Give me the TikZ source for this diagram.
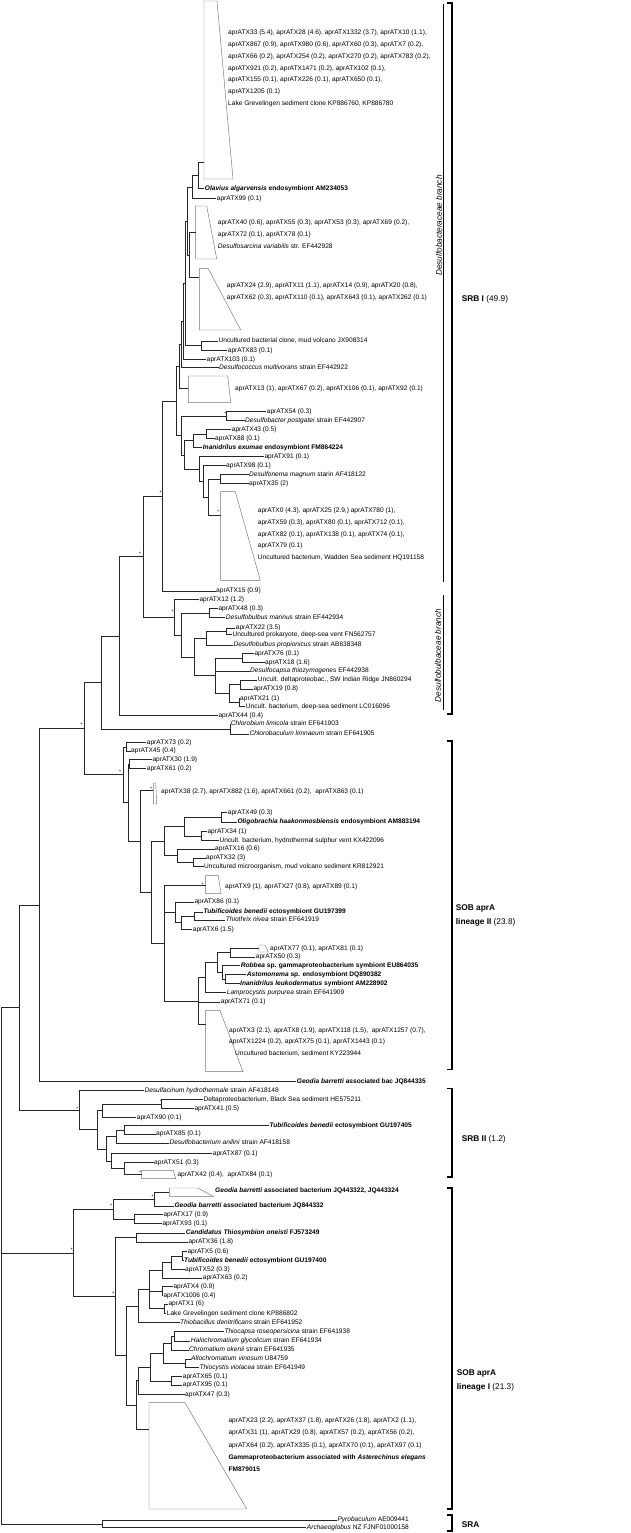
\documentclass[tikz,border=0pt]{standalone}
\usepackage{fontspec}
\setmainfont{Liberation Sans}
\usetikzlibrary{calc}
\newcommand\tn[4]{\path let \p1=(#3), \p2=(#4) in coordinate (#1) at (#2pt,{0.5*(\y1+\y2)});}
\newcommand\kids[2]{\foreach \kid in {#2} {\draw[br] (#1) |- (\kid);}}
\begin{document}
\begin{tikzpicture}[x=1pt,y=-1pt,
  br/.style={line width=0.55pt, black!85},
  lf/.style={anchor=west, inner sep=0.5pt, font=\fontsize{6.6}{7}\selectfont, text height=4.7pt, text depth=1.2pt},
  ml/.style={anchor=north west, align=left, inner sep=0pt, font=\fontsize{6.6}{11.8}\selectfont},
  tri/.style={draw=black!55, line width=0.45pt},
  brk/.style={line width=1.2pt},
  glab/.style={anchor=west, inner sep=0pt, font=\fontsize{8.3}{14.3}\selectfont, align=left},
  glab2/.style={anchor=north west, inner sep=0pt, font=\fontsize{8.3}{14.3}\selectfont, align=left},
  rlab/.style={rotate=90, inner sep=0pt, font=\fontsize{8.2}{9}\itshape\selectfont},
  ast/.style={inner sep=0pt, font=\fontsize{5}{5}\selectfont}]
\useasboundingbox (0,0) rectangle (631,1533);

% ---------- collapsed clades ----------
\draw[tri] (204,1)--(217,1)--(233,179)--(204,179)--cycle;
\draw[tri] (195.7,206)--(206.7,206)--(216.7,259)--(195.7,259)--cycle;
\draw[tri] (199.3,268.7)--(208.3,268.7)--(240.7,330)--(199.3,330)--cycle;
\draw[tri] (188.3,376)--(227.7,376)--(230.7,402.3)--(188.3,402.3)--cycle;
\draw[tri] (220.7,491.7)--(235.3,491.7)--(260.3,580.3)--(220.7,580.3)--cycle;
\draw[tri] (153.3,783)--(155.7,783)--(156.7,804)--(153.3,804)--cycle;
\draw[tri] (205.7,875.7)--(218.3,875.7)--(221,893.7)--(205.7,893.7)--cycle;
\draw[tri] (259,945)--(265,945)--(268.3,952)--(259,952)--cycle;
\draw[tri] (205.7,1010.3)--(220,1010.3)--(243,1071.7)--(205.7,1071.7)--cycle;
\draw[tri] (141.7,1170.3)--(173.3,1170.3)--(175.7,1178.7)--(141.7,1178.7)--cycle;
\draw[tri] (169.3,1188)--(197.7,1188)--(213.3,1196.3)--(169.3,1196.3)--cycle;
\draw[tri] (149,1402.7)--(185,1402.7)--(246.7,1509)--(149,1509)--cycle;
\coordinate (T1a) at (204,162.3);
\coordinate (T2a) at (195.7,232);
\coordinate (T3a) at (199.3,277.7);
\coordinate (T4a) at (188.3,388.3);
\coordinate (T5a) at (220.7,515);
\coordinate (T6a) at (153.3,790.7);
\coordinate (T7a) at (205.7,885.3);
\coordinate (T8a) at (259,948.5);
\coordinate (T9a) at (205.7,1024);
\coordinate (T10a) at (141.7,1174.7);
\coordinate (T11a) at (169.3,1192);
\coordinate (T12a) at (149,1429);

% clade texts
\node[ml] (TT1) at (228,29.8) {aprATX33 (5.4), aprATX28 (4.6), aprATX1332 (3.7), aprATX10 (1.1),\\aprATX867 (0.9), aprATX980 (0.6), aprATX60 (0.3), aprATX7 (0.2),\\aprATX66 (0.2), aprATX254 (0.2), aprATX270 (0.2), aprATX783 (0.2),\\aprATX921 (0.2), aprATX1471 (0.2), aprATX102 (0.1),\\aprATX155 (0.1), aprATX226 (0.1), aprATX650 (0.1),\\aprATX1205 (0.1)\\Lake Grevelingen sediment clone KP886760, KP886780};
\node[ml] (TT2) at (217.7,219.8) {aprATX40 (0.6), aprATX55 (0.3), aprATX53 (0.3), aprATX69 (0.2),\\aprATX72 (0.1), aprATX78 (0.1)\\\textit{Desulfosarcina variabilis} str. EF442928};
\node[ml] (TT3) at (226.7,282.8) {aprATX24 (2.9), aprATX11 (1.1), aprATX14 (0.9), aprATX20 (0.8),\\aprATX62 (0.3), aprATX110 (0.1), aprATX643 (0.1), aprATX262 (0.1)};
\node[lf] (TT4) at (234.5,388.3) {aprATX13 (1), aprATX67 (0.2), aprATX106 (0.1), aprATX92 (0.1)};
\node[ml] (TT5) at (257.7,507.5) {aprATX0 (4.3), aprATX25 (2.9,) aprATX780 (1),\\aprATX59 (0.3), aprATX80 (0.1), aprATX712 (0.1),\\aprATX82 (0.1), aprATX138 (0.1), aprATX74 (0.1),\\aprATX79 (0.1)\\Uncultured bacterium, Wadden Sea sediment HQ191158};
\node[lf] (TT6) at (160.5,791.3) {aprATX38 (2.7), aprATX882 (1.6), aprATX661 (0.2), \ aprATX863 (0.1)};
\node[lf] (TT7) at (224.5,886.3) {aprATX9 (1), aprATX27 (0.8), aprATX89 (0.1)};
\node[lf] (TT8) at (269.5,948.5) {aprATX77 (0.1), aprATX81 (0.1)};
\node[ml, font=\fontsize{6.6}{11}\selectfont] (TT9) at (229,1027.2) {aprATX3 (2.1), aprATX8 (1.9), aprATX118 (1.5), \ aprATX1257 (0.7),\\aprATX1224 (0.2), aprATX75 (0.1), aprATX1443 (0.1)};
\node[lf] (TT9b) at (234.5,1053.3) {Uncultured bacterium, sediment KY223944};
\node[lf] (TT10) at (176.8,1174.7) {aprATX42 (0.4), \ aprATX84 (0.1)};
\node[lf] (TT11) at (214.5,1191) {\textbf{\textit{Geodia barretti} associated bacterium JQ443322, JQ443324}};
\node[ml, font=\fontsize{6.6}{12.25}\selectfont] (TT12) at (228.3,1417.5) {aprATX23 (2.2), aprATX37 (1.8), aprATX26 (1.8), aprATX2 (1.1),\\aprATX31 (1), aprATX29 (0.8), aprATX57 (0.2), aprATX56 (0.2),\\aprATX64 (0.2), aprATX335 (0.1), aprATX70 (0.1), aprATX97 (0.1)\\\textbf{Gammaproteobacterium associated with \textit{Asterechinus elegans}}\\\textbf{FM879015}};

% ---------- leaves ----------
\node[lf] (LOla) at (204.2,188.7) {\textbf{\textit{Olavius algarvensis} endosymbiont AM234053}};
\node[lf] (L99) at (216.2,198.3) {aprATX99 (0.1)};
\node[lf] (LUBmv) at (217.8,341) {Uncultured bacterial clone, mud volcano JX908314};
\node[lf] (L83) at (227.2,350.3) {aprATX83 (0.1)};
\node[lf] (L103) at (206.2,359.3) {aprATX103 (0.1)};
\node[lf] (LDmult) at (218.5,367.7) {\textit{Desulfococcus multivorans} strain EF442922};
\node[lf] (L54) at (266.2,411.7) {aprATX54 (0.3)};
\node[lf] (LDpost) at (244.5,420.7) {\textit{Desulfobacter postgatei} strain EF442907};
\node[lf] (L43) at (231.2,429.7) {aprATX43 (0.5)};
\node[lf] (L88) at (214.5,438.3) {aprATX88 (0.1)};
\node[lf] (LInex) at (202.2,447.3) {\textbf{\textit{Inanidrilus exumae} endosymbiont FM864224}};
\node[lf] (L91) at (263.8,456.7) {aprATX91 (0.1)};
\node[lf] (L98) at (225.5,465.7) {aprATX98 (0.1)};
\node[lf] (LDmag) at (248.5,474.7) {\textit{Desulfonema magnum} starin AF418122};
\node[lf] (L35) at (248.5,483.3) {aprATX35 (2)};
\node[lf] (L15) at (215.5,591) {aprATX15 (0.9)};
\node[lf] (L12) at (198.8,599.3) {aprATX12 (1.2)};
\node[lf] (L48) at (217.8,608.7) {aprATX48 (0.3)};
\node[lf] (LDmar) at (225.2,617.7) {\textit{Desulfobulbus marinus} strain EF442934};
\node[lf] (L22) at (235.2,628) {aprATX22 (3.5)};
\node[lf] (LUpro) at (231.8,634.7) {Uncultured prokaryote, deep-sea vent FN562757};
\node[lf] (LDprop) at (232.8,645) {\textit{Desulfobulbus propionicus} strain AB638348};
\node[lf] (L76) at (253.8,653.3) {aprATX76 (0.1)};
\node[lf] (L18) at (264.5,662.3) {aprATX18 (1.6)};
\node[lf] (LDcap) at (249.5,671) {\textit{Desulfocapsa thiozymogenes} EF442938};
\node[lf] (LUSW) at (257.2,680) {Uncult. deltaproteobac., SW Indian Ridge JN860294};
\node[lf] (L19) at (252.8,689) {aprATX19 (0.8)};
\node[lf] (L21) at (239.5,698.3) {aprATX21 (1)};
\node[lf] (LUbdss) at (245.2,706.7) {Uncult. bacterium, deep-sea sediment LC016096};
\node[lf] (L44) at (217.8,715.7) {aprATX44 (0.4)};
\node[lf] (LClim) at (230.2,724) {\textit{Chlorobium limicola} strain EF641903};
\node[lf] (LClimn) at (248.8,734) {\textit{Chlorobaculum limnaeum} strain EF641905};
\node[lf] (L73) at (146.2,742.7) {aprATX73 (0.2)};
\node[lf] (L45) at (130.5,751) {aprATX45 (0.4)};
\node[lf] (L30) at (151.8,759.3) {aprATX30 (1.9)};
\node[lf] (L61) at (146.2,768.5) {aprATX61 (0.2)};
\node[lf] (L49) at (227.2,812.3) {aprATX49 (0.3)};
\node[lf] (LOli) at (236.8,822) {\textbf{\textit{Oligobrachia haakonmosbiensis} endosymbiont AM883194}};
\node[lf] (L34) at (206.8,831.3) {aprATX34 (1)};
\node[lf] (LUhyd) at (218.8,840.3) {Uncult. bacterium, hydrothermal sulphur vent KX422096};
\node[lf] (L16) at (214.5,849) {aprATX16 (0.6)};
\node[lf] (L32) at (205.5,858) {aprATX32 (3)};
\node[lf] (LUmv) at (203.5,866.7) {Uncultured microorganism, mud volcano sediment KR812921};
\node[lf] (L86) at (193.8,902) {aprATX86 (0.1)};
\node[lf] (LTb399) at (202.8,912) {\textbf{\textit{Tubificoides benedii} ectosymbiont GU197399}};
\node[lf] (LThn) at (225.2,920) {\textit{Thiothrix nivea} strain EF641919};
\node[lf] (L6) at (192.2,929.3) {aprATX6 (1.5)};
\node[lf] (L50) at (255.2,957) {aprATX50 (0.3)};
\node[lf] (LRob) at (240.2,965.3) {\textbf{\textit{Robbea} sp. gammaproteobacterium symbiont EU864035}};
\node[lf] (LAst) at (246.2,974.3) {\textbf{\textit{Astomonema} sp. endosymbiont DQ890382}};
\node[lf] (LInl) at (239.5,983.3) {\textbf{\textit{Inanidrilus leukodermatus} symbiont AM228902}};
\node[lf] (LLamp) at (226.2,992.7) {\textit{Lamprocystis purpurea} strain EF641909};
\node[lf] (L71) at (220.2,1002) {aprATX71 (0.1)};
\node[lf] (LGeoBac) at (296.2,1081.3) {\textbf{\textit{Geodia barretti} associated bac JQ844335}};
\node[lf] (LDhyd) at (143.8,1090.7) {\textit{Desulfacinum hydrothermale} strain AF418148};
\node[lf] (LDBS) at (202.8,1099.3) {Deltaproteobacterium, Black Sea sediment HE575211};
\node[lf] (L41) at (193.8,1108.3) {aprATX41 (0.5)};
\node[lf] (L90) at (136.2,1117.3) {aprATX90 (0.1)};
\node[lf] (LTb405) at (268.8,1125.7) {\textbf{\textit{Tubificoides benedii} ectosymbiont GU197405}};
\node[lf] (L85) at (155.5,1134) {aprATX85 (0.1)};
\node[lf] (LDan) at (168.8,1143) {\textit{Desulfobacterium anilini} strain AF418158};
\node[lf] (L87) at (212.2,1153.7) {aprATX87 (0.1)};
\node[lf] (L51) at (153.5,1162.7) {aprATX51 (0.3)};
\node[lf] (LGeoJQ) at (173.8,1206) {\textbf{\textit{Geodia barretti} associated bacterium JQ844332}};
\node[lf] (L17) at (162.8,1214.7) {aprATX17 (0.9)};
\node[lf] (L93) at (161.8,1223.7) {aprATX93 (0.1)};
\node[lf] (LCand) at (185.2,1233) {\textbf{\textit{Candidatus Thiosymbion oneisti} FJ573249}};
\node[lf] (L36) at (187.8,1242) {aprATX36 (1.8)};
\node[lf] (L5) at (186.8,1251.3) {aprATX5 (0.6)};
\node[lf] (LTb400) at (183.5,1260.3) {\textbf{\textit{Tubificoides benedii} ectosymbiont GU197400}};
\node[lf] (L52) at (184.5,1269.3) {aprATX52 (0.3)};
\node[lf] (L63) at (202.2,1278) {aprATX63 (0.2)};
\node[lf] (L4) at (172.8,1286.7) {aprATX4 (0.9)};
\node[lf] (L1006) at (162.8,1295.7) {aprATX1006 (0.4)};
\node[lf] (L1) at (167.8,1304) {aprATX1 (6)};
\node[lf] (LLG) at (166.2,1313.3) {Lake Grevelingen sediment clone KP886802};
\node[lf] (LTbd) at (179.5,1322.3) {\textit{Thiobacillus denitrificans} strain EF641952};
\node[lf] (LTcr) at (223.8,1331.7) {\textit{Thiocapsa roseopersicina} strain EF641938};
\node[lf] (LHgl) at (190.2,1341) {\textit{Halochromatium glycolicum} strain EF641934};
\node[lf] (LCok) at (188.5,1350) {\textit{Chromatium okenii} strain EF641935};
\node[lf] (LAvi) at (190.5,1359) {\textit{Allochromatium vinosum} U84759};
\node[lf] (LTvi) at (198.8,1367.7) {\textit{Thiocystis violacea} strain EF641949};
\node[lf] (L65) at (182.2,1376.7) {aprATX65 (0.1)};
\node[lf] (L95) at (182.2,1385) {aprATX95 (0.1)};
\node[lf] (L47) at (184.5,1394.3) {aprATX47 (0.3)};
\node[lf] (LPyr) at (336.8,1520) {\textit{Pyrobaculum} AE009441};
\node[lf] (LArch) at (306.2,1527.7) {\textit{Archaeoglobus} NZ FJNF01000158};

% ---------- internal nodes ----------
\tn{Na1}{198}{T1a}{LOla}
\tn{Na2}{192.7}{Na1}{L99}
\tn{N3}{189.5}{T2a}{T3a}
\tn{Ntop}{187.5}{Na2}{N3}
\tn{Nunc}{201}{LUBmv}{L83}
\tn{N4}{185.7}{Ntop}{Nunc}
\tn{N5}{183}{N4}{L103}
\tn{N6}{181}{N5}{LDmult}
\tn{NA}{179}{N6}{T4a}
\tn{N54}{226}{L54}{LDpost}
\tn{N43}{206}{L43}{L88}
\tn{Nin}{193.3}{N43}{LInex}
\tn{Ndm}{220}{LDmag}{L35}
\tn{NdmT}{208.3}{Ndm}{T5a}
\tn{Ny2}{203.5}{L98}{NdmT}
\tn{Nlow}{199}{L91}{Ny2}
\tn{Nr2}{184}{Nin}{Nlow}
\tn{N9}{181.7}{N54}{Nr2}
\tn{N7}{176.7}{NA}{N9}
\tn{N8}{162.3}{N7}{L15}
\tn{N48}{209.3}{L48}{LDmar}
\tn{N22}{226}{L22}{LUpro}
\tn{Np}{206.7}{N22}{LDprop}
\tn{N76}{242.7}{L76}{L18}
\tn{Nur}{240.7}{LUSW}{L19}
\tn{N21}{239}{L21}{LUbdss}
\tn{Nunc2}{229.3}{Nur}{N21}
\tn{Ncap}{215}{N76}{Nunc2}
\tn{Nbul}{194.3}{Np}{Ncap}
\tn{Nmar}{181}{N48}{Nbul}
\tn{N12}{174.3}{L12}{Nmar}
\tn{N10}{143.3}{N8}{N12}
\tn{N11}{119}{N10}{L44}
\tn{Nchl}{230}{LClim}{LClimn}
\tn{N13}{101}{N11}{Nchl}
\tn{N73}{126.7}{L73}{L45}
\tn{N30}{129.3}{L30}{L61}
\tn{N49}{221}{L49}{LOli}
\tn{N34}{201.7}{L34}{LUhyd}
\tn{Noli}{184.3}{N49}{N34}
\tn{N32}{193.3}{L32}{LUmv}
\tn{Nx16}{177.7}{L16}{N32}
\tn{Nd}{164.3}{Noli}{Nx16}
\tn{Ntt}{194.3}{LTb399}{LThn}
\tn{N6b}{181}{Ntt}{L6}
\tn{Nr}{175}{L86}{N6b}
\tn{N77}{230}{T8a}{L50}
\tn{Nast}{225}{LAst}{LInl}
\tn{Nrob}{222.7}{LRob}{Nast}
\tn{Nh}{217.7}{N77}{Nrob}
\tn{Ni}{205.7}{Nh}{LLamp}
\tn{Nj}{198.3}{Ni}{T9a}
\tn{Nk}{164.3}{T7a}{Nj}
\tn{Ne}{151}{Nd}{Nk}
\tn{N38}{140.7}{T6a}{Ne}
\tn{Nb}{128.3}{N30}{N38}
\tn{NsobII}{123.3}{N73}{Nb}
\tn{R14}{84.3}{N13}{NsobII}
\tn{R15}{39}{R14}{LGeoBac}
\tn{N41}{161.7}{LDBS}{L41}
\tn{N90}{102.7}{N41}{L90}
\tn{N85}{124}{LTb405}{L85}
\tn{Nan}{116.7}{N85}{LDan}
\tn{N51}{124}{L51}{T10a}
\tn{N87}{111}{L87}{N51}
\tn{Nn}{106.7}{Nan}{N87}
\tn{Nm}{97.7}{N90}{Nn}
\tn{Nsrb2}{79}{LDhyd}{Nm}
\tn{R16}{19}{R15}{Nsrb2}
\tn{Ng1}{154.3}{T11a}{LGeoJQ}
\tn{N17}{134}{L17}{L93}
\tn{Ngeo}{113.3}{Ng1}{N17}
\tn{N36}{136}{LCand}{L36}
\tn{N5b}{182.7}{L5}{LTb400}
\tn{N52}{171.7}{N5b}{L52}
\tn{N63}{162.3}{N52}{L63}
\tn{N4b}{162.3}{L4}{L1006}
\tn{N1}{164.3}{L1}{LLG}
\tn{Ny}{149.3}{N63}{N1}
\tn{Nz}{138.3}{Ny}{LTbd}
\tn{Ntc}{174}{LTcr}{LHgl}
\tn{Nch}{171.7}{Ntc}{LCok}
\tn{Nal}{185}{LAvi}{LTvi}
\tn{Ncr}{163.3}{Nch}{Nal}
\tn{N65}{171.7}{L65}{L95}
\tn{Ncb}{150}{Ncr}{N65}
\tn{Ncc}{138.3}{Ncb}{L47}
\tn{Nee}{136.7}{Ncc}{T12a}
\tn{Nbig}{126.7}{Nz}{Nee}
\tn{Nth}{115}{N36}{Nbig}
\tn{Nsob1}{73.3}{Ngeo}{Nth}
\tn{Nsra}{102.7}{LPyr}{LArch}
\tn{Root}{1}{R16}{Nsra}

% ---------- branches ----------
\kids{Na1}{T1a,LOla}
\kids{Na2}{Na1,L99}
\kids{N3}{T2a,T3a}
\kids{Ntop}{Na2,N3}
\kids{Nunc}{LUBmv,L83}
\kids{N4}{Ntop,Nunc}
\kids{N5}{N4,L103}
\kids{N6}{N5,LDmult}
\kids{NA}{N6,T4a}
\kids{N54}{L54,LDpost}
\kids{N43}{L43,L88}
\kids{Nin}{N43,LInex}
\kids{Ndm}{LDmag,L35}
\kids{NdmT}{Ndm,T5a}
\kids{Ny2}{L98,NdmT}
\kids{Nlow}{L91,Ny2}
\kids{Nr2}{Nin,Nlow}
\kids{N9}{N54,Nr2}
\kids{N7}{NA,N9}
\kids{N8}{N7,L15}
\kids{N48}{L48,LDmar}
\kids{N22}{L22,LUpro}
\kids{Np}{N22,LDprop}
\kids{N76}{L76,L18}
\kids{Nur}{LUSW,L19}
\kids{N21}{L21,LUbdss}
\kids{Nunc2}{Nur,N21}
\kids{Ncap}{N76,LDcap,Nunc2}
\kids{Nbul}{Np,Ncap}
\kids{Nmar}{N48,Nbul}
\kids{N12}{L12,Nmar}
\kids{N10}{N8,N12}
\kids{N11}{N10,L44}
\kids{Nchl}{LClim,LClimn}
\kids{N13}{N11,Nchl}
\kids{N73}{L73,L45}
\kids{N30}{L30,L61}
\kids{N49}{L49,LOli}
\kids{N34}{L34,LUhyd}
\kids{Noli}{N49,N34}
\kids{N32}{L32,LUmv}
\kids{Nx16}{L16,N32}
\kids{Nd}{Noli,Nx16}
\kids{Ntt}{LTb399,LThn}
\kids{N6b}{Ntt,L6}
\kids{Nr}{L86,N6b}
\kids{N77}{T8a,L50}
\kids{Nast}{LAst,LInl}
\kids{Nrob}{LRob,Nast}
\kids{Nh}{N77,Nrob}
\kids{Ni}{Nh,LLamp}
\kids{Nj}{Ni,L71,T9a}
\kids{Nk}{T7a,Nr,Nj}
\kids{Ne}{Nd,Nk}
\kids{N38}{T6a,Ne}
\kids{Nb}{N30,N38}
\kids{NsobII}{N73,Nb}
\kids{R14}{N13,NsobII}
\kids{R15}{R14,LGeoBac}
\kids{N41}{LDBS,L41}
\kids{N90}{N41,L90}
\kids{N85}{LTb405,L85}
\kids{Nan}{N85,LDan}
\kids{N51}{L51,T10a}
\kids{N87}{L87,N51}
\kids{Nn}{Nan,N87}
\kids{Nm}{N90,Nn}
\kids{Nsrb2}{LDhyd,Nm}
\kids{R16}{R15,Nsrb2}
\kids{Ng1}{T11a,LGeoJQ}
\kids{N17}{L17,L93}
\kids{Ngeo}{Ng1,N17}
\kids{N36}{LCand,L36}
\kids{N5b}{L5,LTb400}
\kids{N52}{N5b,L52}
\kids{N63}{N52,L63}
\kids{N4b}{L4,L1006}
\kids{N1}{L1,LLG}
\kids{Ny}{N63,N4b,N1}
\kids{Nz}{Ny,LTbd}
\kids{Ntc}{LTcr,LHgl}
\kids{Nch}{Ntc,LCok}
\kids{Nal}{LAvi,LTvi}
\kids{Ncr}{Nch,Nal}
\kids{N65}{L65,L95}
\kids{Ncb}{Ncr,N65}
\kids{Ncc}{Ncb,L47}
\kids{Nee}{Ncc,T12a}
\kids{Nbig}{Nz,Nee}
\kids{Nth}{N36,Nbig}
\kids{Nsob1}{Ngeo,Nth}
\kids{Nsra}{LPyr,LArch}
\kids{Root}{R16,Nsob1,Nsra}

% ---------- asterisks ----------
\foreach \px/\py [count=\i] in {225.3/413.3,160.7/493,140/553.7,172.7/612,218.3/511.7,81.7/725,120/771.3,151/788.7,202.7/884.7,222.7/977,161/1101.3,77.3/1109,140/1172.7,152.7/1196.3,111/1205.3,71.7/1249.3,113.3/1293.3}
  \node[ast] (ast\i) at (\px,\py) {*};

% ---------- brackets ----------
\draw[brk] (447,3)--(452,3)--(452,714)--(447,714);
\draw[line width=1pt] (443,4.5)--(443,582);
\draw[line width=1pt] (443,595)--(443,710);
\draw[brk] (447,741)--(452,741)--(452,1069.7)--(447,1069.7);
\draw[brk] (447,1088.3)--(452,1088.3)--(452,1177)--(447,1177);
\draw[brk] (447,1188)--(452,1188)--(452,1509)--(447,1509);
\draw[brk] (447,1515)--(452,1515)--(452,1531)--(447,1531);
\node[rlab] (Rdba) at (439,225.5) {Desulfobacteraceae branch};
\node[rlab] (Rdbu) at (438,655.5) {Desulfobulbaceae branch};
\node[glab] (G1) at (461.7,299) {\textbf{SRB I} (49.9)};
\node[glab2] (G2) at (455.7,904.6) {\textbf{SOB aprA}\\\textbf{lineage II} (23.8)};
\node[glab] (G3) at (461.7,1139) {\textbf{SRB II} (1.2)};
\node[glab2] (G4) at (456.7,1369.6) {\textbf{SOB aprA}\\\textbf{lineage I} (21.3)};
\node[glab] (G5) at (461.7,1524.3) {\textbf{SRA}};
\end{tikzpicture}
\end{document}
